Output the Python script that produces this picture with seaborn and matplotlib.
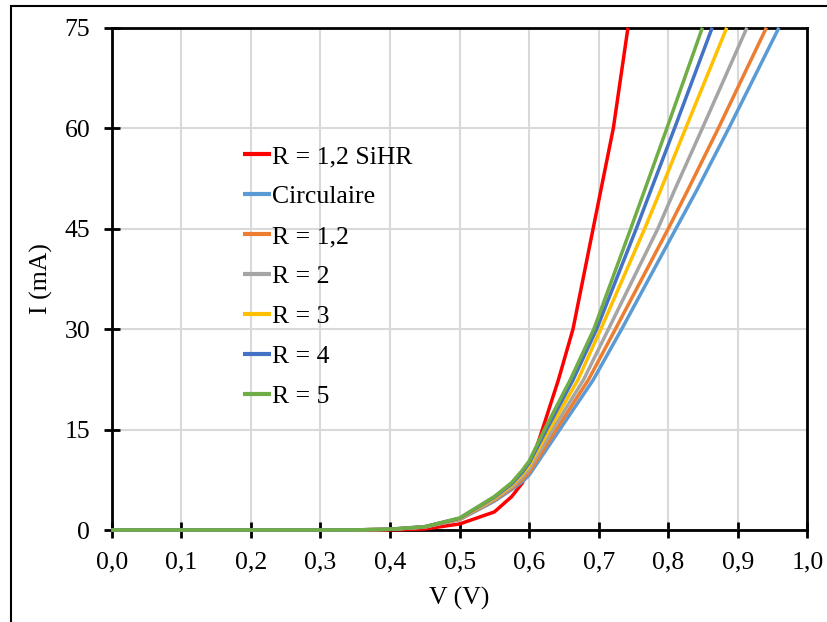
import numpy as np
import pandas as pd
import seaborn as sns
import matplotlib
matplotlib.use("Agg")
import matplotlib.pyplot as plt
from matplotlib.patches import Rectangle
from matplotlib.ticker import MultipleLocator, FuncFormatter

# series names and colours (Excel palette)
names = ["R = 1,2 SiHR", "Circulaire", "R = 1,2", "R = 2", "R = 3", "R = 4", "R = 5"]
colors = ["#FF0000", "#5B9BD5", "#ED7D31", "#A5A5A5", "#FFC000", "#4472C4", "#70AD47"]

# values: V (V) and I (mA) for each curve
v_low = [0.0, 0.1, 0.2, 0.3, 0.35, 0.4, 0.45, 0.5, 0.55, 0.575, 0.59, 0.6]
i_high = [15, 22.4, 30, 45, 50.75, 60, 75]

red_v = [0.0, 0.1, 0.2, 0.3, 0.35, 0.4, 0.45, 0.5, 0.55, 0.575, 0.59, 0.6, 0.619, 0.642, 0.663, 0.69, 0.721, 0.742]
red_i = [0, 0, 0, 0, 0.0, 0.02, 0.15, 0.9, 2.7, 5.0, 7.0, 9.0, 15, 22.4, 30, 44, 60, 75]

circ_low = [0, 0, 0, 0, 0.02, 0.10, 0.44, 1.55, 4.3, 6.05, 7.2, 8.2]
r12_low = [0, 0, 0, 0, 0.02, 0.10, 0.45, 1.60, 4.45, 6.25, 7.5, 8.6]
r2_low = [0, 0, 0, 0, 0.02, 0.11, 0.46, 1.65, 4.6, 6.45, 7.9, 9.1]
r3_low = [0, 0, 0, 0, 0.02, 0.11, 0.48, 1.70, 4.75, 6.7, 8.3, 9.6]
r4_low = [0, 0, 0, 0, 0.02, 0.12, 0.50, 1.75, 4.9, 6.9, 8.6, 10.0]
r5_low = [0, 0, 0, 0, 0.02, 0.12, 0.50, 1.80, 5.0, 7.1, 8.9, 10.3]

circ_high = [0.644, 0.692, 0.733, 0.811, 0.841, 0.887, 0.959]
r12_high = [0.639, 0.685, 0.724, 0.800, 0.828, 0.872, 0.941]
r2_high = [0.634, 0.678, 0.714, 0.785, 0.809, 0.849, 0.913]
r3_high = [0.629, 0.670, 0.703, 0.766, 0.789, 0.825, 0.884]
r4_high = [0.625, 0.663, 0.697, 0.754, 0.775, 0.809, 0.863]
r5_high = [0.622, 0.659, 0.693, 0.746, 0.766, 0.798, 0.849]

rows = []
for v, i in zip(red_v, red_i):
    rows.append((names[0], v, i))
others = [circ_low, r12_low, r2_low, r3_low, r4_low, r5_low]
others_hi = [circ_high, r12_high, r2_high, r3_high, r4_high, r5_high]
for name, lo, hi in zip(names[1:], others, others_hi):
    for v, i in zip(v_low, lo):
        rows.append((name, v, i))
    for v, i in zip(hi, i_high):
        rows.append((name, v, i))
df = pd.DataFrame(rows, columns=["serie", "V", "I"])

sns.set_theme(style="white")
plt.rcParams['font.family'] = ['Liberation Serif', 'DejaVu Serif']
plt.rcParams['text.color'] = 'black'
plt.rcParams['axes.labelcolor'] = 'black'
plt.rcParams['xtick.color'] = 'black'
plt.rcParams['ytick.color'] = 'black'

fig = plt.figure(figsize=(8.28, 6.22), dpi=100)
ax = fig.add_axes([0.1349, 0.1479, 0.8403, 0.8076])

sns.lineplot(data=df, x="V", y="I", hue="serie", hue_order=names,
             palette=dict(zip(names, colors)), linewidth=2.5,
             estimator=None, errorbar=None, ax=ax)
for ln in ax.lines:
    ln.set_clip_on(False)
    ln.set_zorder(3)
    ln.set_solid_capstyle('butt')
    ln.set_solid_joinstyle('round')

ax.set_xlim(0, 1.0)
ax.set_ylim(0, 75)
ax.xaxis.set_major_locator(MultipleLocator(0.1))
ax.yaxis.set_major_locator(MultipleLocator(15))
ax.xaxis.set_major_formatter(FuncFormatter(lambda x, p: f"{x:.1f}".replace('.', ',')))
ax.yaxis.set_major_formatter(FuncFormatter(lambda y, p: f"{y:.0f}"))

ax.grid(True, color='#d9d9d9', linewidth=1.5)
ax.set_axisbelow(True)
for s in ax.spines.values():
    s.set_color('black')
    s.set_linewidth(2.0)
ax.tick_params(axis='both', direction='inout', length=11, width=2, labelsize=18.5, pad=10,
               bottom=True, left=True, top=False, right=False)

ax.set_xlabel("V (V)", fontsize=18.5)
ax.set_ylabel("I (mA)", fontsize=18.5)
ax.xaxis.set_label_coords(0.5, -0.114)
ax.yaxis.set_label_coords(-0.084, 0.5)

handles, labels = ax.get_legend_handles_labels()
leg = ax.legend(handles, labels, loc='upper left', bbox_to_anchor=(0.188, 0.766),
                frameon=False, fontsize=18.5, handlelength=1.1, handletextpad=0.05,
                labelspacing=0.66, borderpad=0, borderaxespad=0)
for h in leg.get_lines():
    h.set_linewidth(3)

fig.patches.append(Rectangle((11 / 828, -0.1), 1.2, 1.1 - 6 / 622, transform=fig.transFigure,
                             fill=False, edgecolor='black', linewidth=1.5))

fig.savefig("out.png", dpi=100)
